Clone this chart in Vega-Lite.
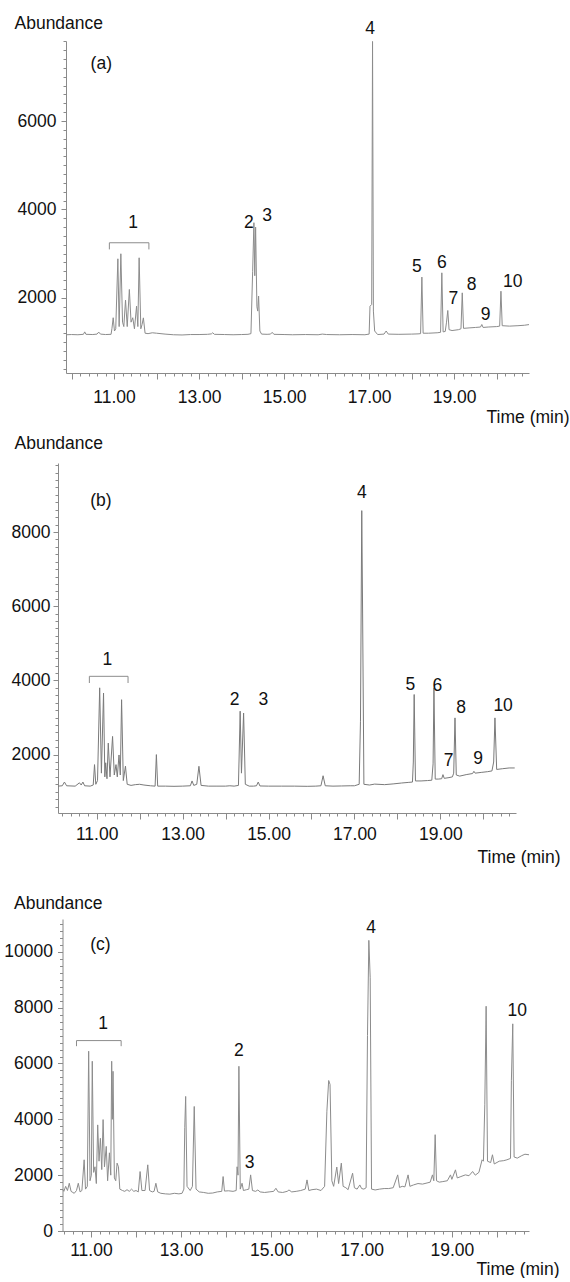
{
  "$schema": "https://vega.github.io/schema/vega-lite/v6.json",
  "padding": {"left": 3, "top": 14, "right": 0, "bottom": 0},
  "bounds": "flush",
  "spacing": 90,
  "config": {
    "view": {"stroke": null},
    "font": "Liberation Sans",
    "axis": {
      "grid": false,
      "labelFont": "Liberation Sans",
      "labelFontSize": 17.5,
      "labelColor": "#111111",
      "titleFont": "Liberation Sans",
      "titleFontSize": 17.5,
      "titleFontWeight": "normal",
      "titleColor": "#111111",
      "domainColor": "#8a8a8a",
      "tickColor": "#8a8a8a",
      "labelOverlap": false,
      "labelFlush": false
    }
  },
  "datasets": {
    "a": [
      {"t": 9.87, "v": 1165}, {"t": 10.0, "v": 1170}, {"t": 10.15, "v": 1165}, {"t": 10.28, "v": 1175}, {"t": 10.31, "v": 1230}, {"t": 10.34, "v": 1175},
      {"t": 10.5, "v": 1170}, {"t": 10.6, "v": 1180}, {"t": 10.64, "v": 1225}, {"t": 10.68, "v": 1180}, {"t": 10.8, "v": 1170}, {"t": 10.93, "v": 1175},
      {"t": 10.95, "v": 1300}, {"t": 10.98, "v": 1550}, {"t": 11.01, "v": 1250}, {"t": 11.04, "v": 1300}, {"t": 11.09, "v": 2883}, {"t": 11.12, "v": 1350},
      {"t": 11.16, "v": 2997}, {"t": 11.2, "v": 1450}, {"t": 11.23, "v": 1350}, {"t": 11.27, "v": 1950}, {"t": 11.31, "v": 1350}, {"t": 11.36, "v": 2190},
      {"t": 11.4, "v": 1450}, {"t": 11.44, "v": 1550}, {"t": 11.48, "v": 1300}, {"t": 11.53, "v": 1812}, {"t": 11.56, "v": 1350}, {"t": 11.59, "v": 2906},
      {"t": 11.63, "v": 1300}, {"t": 11.66, "v": 1400}, {"t": 11.69, "v": 1547}, {"t": 11.73, "v": 1200}, {"t": 11.8, "v": 1190}, {"t": 11.9, "v": 1210},
      {"t": 12.0, "v": 1200}, {"t": 12.2, "v": 1180}, {"t": 12.4, "v": 1165}, {"t": 12.6, "v": 1160}, {"t": 12.8, "v": 1170}, {"t": 13.0, "v": 1170},
      {"t": 13.2, "v": 1175}, {"t": 13.29, "v": 1185}, {"t": 13.32, "v": 1210}, {"t": 13.36, "v": 1175}, {"t": 13.6, "v": 1170}, {"t": 13.8, "v": 1165},
      {"t": 14.0, "v": 1170}, {"t": 14.15, "v": 1175}, {"t": 14.22, "v": 1190}, {"t": 14.26, "v": 2600}, {"t": 14.29, "v": 3700}, {"t": 14.31, "v": 2500},
      {"t": 14.33, "v": 3600}, {"t": 14.36, "v": 1800}, {"t": 14.38, "v": 1700}, {"t": 14.4, "v": 2040}, {"t": 14.43, "v": 1250}, {"t": 14.47, "v": 1180},
      {"t": 14.6, "v": 1175}, {"t": 14.68, "v": 1180}, {"t": 14.72, "v": 1220}, {"t": 14.76, "v": 1175}, {"t": 15.0, "v": 1170}, {"t": 15.2, "v": 1165},
      {"t": 15.5, "v": 1170}, {"t": 15.8, "v": 1165}, {"t": 15.9, "v": 1180}, {"t": 16.0, "v": 1170}, {"t": 16.3, "v": 1165}, {"t": 16.6, "v": 1170},
      {"t": 16.9, "v": 1165}, {"t": 17.0, "v": 1180}, {"t": 17.02, "v": 1810}, {"t": 17.06, "v": 1850}, {"t": 17.08, "v": 7800}, {"t": 17.1, "v": 1700},
      {"t": 17.13, "v": 1250}, {"t": 17.2, "v": 1170}, {"t": 17.35, "v": 1180}, {"t": 17.4, "v": 1250}, {"t": 17.45, "v": 1180}, {"t": 17.7, "v": 1175},
      {"t": 18.0, "v": 1180}, {"t": 18.15, "v": 1185}, {"t": 18.21, "v": 1190}, {"t": 18.24, "v": 2470}, {"t": 18.27, "v": 1200}, {"t": 18.4, "v": 1200},
      {"t": 18.6, "v": 1210}, {"t": 18.68, "v": 1220}, {"t": 18.71, "v": 2566}, {"t": 18.74, "v": 1230}, {"t": 18.79, "v": 1240}, {"t": 18.82, "v": 1450},
      {"t": 18.85, "v": 1714}, {"t": 18.88, "v": 1280}, {"t": 18.95, "v": 1260}, {"t": 19.1, "v": 1280}, {"t": 19.16, "v": 1300}, {"t": 19.19, "v": 2113},
      {"t": 19.22, "v": 1310}, {"t": 19.35, "v": 1320}, {"t": 19.5, "v": 1330}, {"t": 19.62, "v": 1340}, {"t": 19.65, "v": 1397}, {"t": 19.68, "v": 1330},
      {"t": 19.8, "v": 1340}, {"t": 20.0, "v": 1350}, {"t": 20.07, "v": 1360}, {"t": 20.1, "v": 2150}, {"t": 20.13, "v": 1370}, {"t": 20.3, "v": 1360},
      {"t": 20.5, "v": 1370}, {"t": 20.65, "v": 1380}, {"t": 20.76, "v": 1395}
    ],
    "b": [
      {"t": 10.1, "v": 1150}, {"t": 10.2, "v": 1160}, {"t": 10.25, "v": 1260}, {"t": 10.3, "v": 1160}, {"t": 10.5, "v": 1150}, {"t": 10.6, "v": 1240},
      {"t": 10.64, "v": 1180}, {"t": 10.68, "v": 1260}, {"t": 10.72, "v": 1160}, {"t": 10.85, "v": 1150}, {"t": 10.92, "v": 1180}, {"t": 10.95, "v": 1730},
      {"t": 10.98, "v": 1200}, {"t": 11.02, "v": 1300}, {"t": 11.07, "v": 3800}, {"t": 11.11, "v": 1500}, {"t": 11.16, "v": 3660}, {"t": 11.19, "v": 1400},
      {"t": 11.21, "v": 1780}, {"t": 11.24, "v": 1350}, {"t": 11.27, "v": 2310}, {"t": 11.31, "v": 1400}, {"t": 11.37, "v": 2490}, {"t": 11.41, "v": 1450},
      {"t": 11.45, "v": 1730}, {"t": 11.48, "v": 1400}, {"t": 11.52, "v": 1990}, {"t": 11.55, "v": 1450}, {"t": 11.58, "v": 3480}, {"t": 11.62, "v": 1300},
      {"t": 11.67, "v": 1690}, {"t": 11.71, "v": 1200}, {"t": 11.8, "v": 1170}, {"t": 11.9, "v": 1190}, {"t": 12.0, "v": 1200}, {"t": 12.1, "v": 1180},
      {"t": 12.25, "v": 1160}, {"t": 12.36, "v": 1150}, {"t": 12.39, "v": 2000}, {"t": 12.42, "v": 1150}, {"t": 12.6, "v": 1150}, {"t": 12.8, "v": 1145},
      {"t": 13.0, "v": 1150}, {"t": 13.18, "v": 1160}, {"t": 13.22, "v": 1290}, {"t": 13.26, "v": 1170}, {"t": 13.33, "v": 1200}, {"t": 13.38, "v": 1685},
      {"t": 13.43, "v": 1170}, {"t": 13.6, "v": 1150}, {"t": 13.8, "v": 1150}, {"t": 14.0, "v": 1150}, {"t": 14.1, "v": 1160}, {"t": 14.2, "v": 1150},
      {"t": 14.3, "v": 1170}, {"t": 14.34, "v": 3170}, {"t": 14.37, "v": 1500}, {"t": 14.42, "v": 3120}, {"t": 14.46, "v": 1200}, {"t": 14.55, "v": 1150},
      {"t": 14.65, "v": 1150}, {"t": 14.72, "v": 1160}, {"t": 14.76, "v": 1260}, {"t": 14.8, "v": 1155}, {"t": 15.0, "v": 1150}, {"t": 15.3, "v": 1150},
      {"t": 15.6, "v": 1150}, {"t": 15.9, "v": 1145}, {"t": 16.1, "v": 1150}, {"t": 16.22, "v": 1160}, {"t": 16.27, "v": 1430}, {"t": 16.32, "v": 1160},
      {"t": 16.5, "v": 1150}, {"t": 16.7, "v": 1155}, {"t": 16.9, "v": 1160}, {"t": 17.0, "v": 1160}, {"t": 17.11, "v": 1200}, {"t": 17.14, "v": 2900},
      {"t": 17.17, "v": 8576}, {"t": 17.19, "v": 5790}, {"t": 17.22, "v": 1200}, {"t": 17.35, "v": 1180}, {"t": 17.47, "v": 1205}, {"t": 17.7, "v": 1190},
      {"t": 17.9, "v": 1210}, {"t": 18.1, "v": 1235}, {"t": 18.25, "v": 1250}, {"t": 18.35, "v": 1260}, {"t": 18.37, "v": 1800}, {"t": 18.39, "v": 3620},
      {"t": 18.42, "v": 1290}, {"t": 18.55, "v": 1290}, {"t": 18.7, "v": 1300}, {"t": 18.8, "v": 1310}, {"t": 18.83, "v": 1750}, {"t": 18.85, "v": 3800},
      {"t": 18.88, "v": 1340}, {"t": 18.95, "v": 1340}, {"t": 19.03, "v": 1350}, {"t": 19.06, "v": 1460}, {"t": 19.09, "v": 1360}, {"t": 19.2, "v": 1380},
      {"t": 19.28, "v": 1400}, {"t": 19.31, "v": 1500}, {"t": 19.34, "v": 2990}, {"t": 19.37, "v": 1450}, {"t": 19.45, "v": 1420}, {"t": 19.6, "v": 1460},
      {"t": 19.75, "v": 1490}, {"t": 19.78, "v": 1550}, {"t": 19.81, "v": 1500}, {"t": 19.95, "v": 1520}, {"t": 20.1, "v": 1540}, {"t": 20.2, "v": 1560},
      {"t": 20.24, "v": 1800}, {"t": 20.27, "v": 2990}, {"t": 20.31, "v": 1600}, {"t": 20.45, "v": 1620}, {"t": 20.6, "v": 1640}, {"t": 20.73, "v": 1640}
    ],
    "c": [
      {"t": 10.37, "v": 1500}, {"t": 10.4, "v": 1420}, {"t": 10.44, "v": 1600}, {"t": 10.48, "v": 1450}, {"t": 10.52, "v": 1710}, {"t": 10.56, "v": 1420},
      {"t": 10.6, "v": 1380}, {"t": 10.63, "v": 1350}, {"t": 10.68, "v": 1450}, {"t": 10.72, "v": 1710}, {"t": 10.76, "v": 1400}, {"t": 10.8, "v": 1450},
      {"t": 10.85, "v": 2550}, {"t": 10.88, "v": 1500}, {"t": 10.92, "v": 1600}, {"t": 10.95, "v": 6440}, {"t": 10.98, "v": 1800}, {"t": 11.01, "v": 2000},
      {"t": 11.03, "v": 6080}, {"t": 11.06, "v": 2100}, {"t": 11.09, "v": 2300}, {"t": 11.12, "v": 1700}, {"t": 11.15, "v": 3800}, {"t": 11.18, "v": 2500},
      {"t": 11.21, "v": 3320}, {"t": 11.24, "v": 2200}, {"t": 11.27, "v": 3990}, {"t": 11.3, "v": 2300}, {"t": 11.34, "v": 3030}, {"t": 11.37, "v": 1800},
      {"t": 11.41, "v": 2800}, {"t": 11.44, "v": 2000}, {"t": 11.46, "v": 6080}, {"t": 11.475, "v": 4000}, {"t": 11.49, "v": 5720}, {"t": 11.52, "v": 1900},
      {"t": 11.55, "v": 1800}, {"t": 11.58, "v": 2430}, {"t": 11.61, "v": 2300}, {"t": 11.64, "v": 1500}, {"t": 11.7, "v": 1450}, {"t": 11.75, "v": 1420},
      {"t": 11.8, "v": 1480}, {"t": 11.85, "v": 1420}, {"t": 11.9, "v": 1500}, {"t": 11.95, "v": 1420}, {"t": 12.0, "v": 1450}, {"t": 12.05, "v": 1400},
      {"t": 12.09, "v": 2130}, {"t": 12.13, "v": 1450}, {"t": 12.2, "v": 1450}, {"t": 12.26, "v": 2370}, {"t": 12.3, "v": 1450}, {"t": 12.36, "v": 1400},
      {"t": 12.4, "v": 1420}, {"t": 12.44, "v": 1710}, {"t": 12.48, "v": 1400}, {"t": 12.55, "v": 1350}, {"t": 12.65, "v": 1330}, {"t": 12.75, "v": 1320},
      {"t": 12.85, "v": 1350}, {"t": 12.95, "v": 1330}, {"t": 13.02, "v": 1350}, {"t": 13.06, "v": 1500}, {"t": 13.08, "v": 3700}, {"t": 13.1, "v": 4820},
      {"t": 13.13, "v": 1600}, {"t": 13.2, "v": 1450}, {"t": 13.25, "v": 1600}, {"t": 13.29, "v": 4460}, {"t": 13.33, "v": 1500}, {"t": 13.4, "v": 1400},
      {"t": 13.5, "v": 1380}, {"t": 13.6, "v": 1350}, {"t": 13.7, "v": 1360}, {"t": 13.8, "v": 1400}, {"t": 13.9, "v": 1420}, {"t": 13.93, "v": 1950},
      {"t": 13.96, "v": 1430}, {"t": 14.05, "v": 1440}, {"t": 14.15, "v": 1420}, {"t": 14.22, "v": 1450}, {"t": 14.24, "v": 2300}, {"t": 14.26, "v": 2000},
      {"t": 14.28, "v": 5900}, {"t": 14.31, "v": 1500}, {"t": 14.35, "v": 1710}, {"t": 14.38, "v": 1450}, {"t": 14.45, "v": 1480}, {"t": 14.5, "v": 1500},
      {"t": 14.54, "v": 2010}, {"t": 14.58, "v": 1450}, {"t": 14.65, "v": 1420}, {"t": 14.7, "v": 1470}, {"t": 14.75, "v": 1400}, {"t": 14.85, "v": 1380},
      {"t": 14.95, "v": 1400}, {"t": 15.05, "v": 1420}, {"t": 15.1, "v": 1530}, {"t": 15.15, "v": 1400}, {"t": 15.25, "v": 1380}, {"t": 15.35, "v": 1420},
      {"t": 15.39, "v": 1470}, {"t": 15.45, "v": 1400}, {"t": 15.55, "v": 1420}, {"t": 15.65, "v": 1450}, {"t": 15.75, "v": 1500}, {"t": 15.79, "v": 1830},
      {"t": 15.83, "v": 1450}, {"t": 15.9, "v": 1480}, {"t": 16.0, "v": 1500}, {"t": 16.1, "v": 1450}, {"t": 16.18, "v": 1600}, {"t": 16.23, "v": 4290},
      {"t": 16.27, "v": 5390}, {"t": 16.3, "v": 5250}, {"t": 16.34, "v": 1800}, {"t": 16.38, "v": 1600}, {"t": 16.45, "v": 2290}, {"t": 16.49, "v": 1700},
      {"t": 16.55, "v": 2430}, {"t": 16.59, "v": 1600}, {"t": 16.65, "v": 1550}, {"t": 16.7, "v": 1480}, {"t": 16.8, "v": 2070}, {"t": 16.84, "v": 1550},
      {"t": 16.9, "v": 1500}, {"t": 16.96, "v": 1650}, {"t": 17.0, "v": 1520}, {"t": 17.05, "v": 1500}, {"t": 17.1, "v": 1550}, {"t": 17.13, "v": 7000},
      {"t": 17.16, "v": 10410}, {"t": 17.19, "v": 9070}, {"t": 17.22, "v": 1500}, {"t": 17.3, "v": 1470}, {"t": 17.4, "v": 1500}, {"t": 17.5, "v": 1520},
      {"t": 17.6, "v": 1520}, {"t": 17.7, "v": 1550}, {"t": 17.8, "v": 2010}, {"t": 17.84, "v": 1560}, {"t": 17.9, "v": 1600}, {"t": 17.96, "v": 1580},
      {"t": 18.03, "v": 2010}, {"t": 18.07, "v": 1600}, {"t": 18.15, "v": 1650}, {"t": 18.25, "v": 1700}, {"t": 18.35, "v": 1680}, {"t": 18.45, "v": 1720},
      {"t": 18.52, "v": 1750}, {"t": 18.57, "v": 2010}, {"t": 18.6, "v": 1800}, {"t": 18.63, "v": 3450}, {"t": 18.66, "v": 1800}, {"t": 18.72, "v": 1750},
      {"t": 18.8, "v": 1770}, {"t": 18.9, "v": 1800}, {"t": 18.97, "v": 2010}, {"t": 19.0, "v": 1850}, {"t": 19.08, "v": 2190}, {"t": 19.12, "v": 1900},
      {"t": 19.2, "v": 1950}, {"t": 19.3, "v": 2010}, {"t": 19.38, "v": 1980}, {"t": 19.46, "v": 2130}, {"t": 19.52, "v": 2000}, {"t": 19.6, "v": 2100},
      {"t": 19.67, "v": 2550}, {"t": 19.7, "v": 2500}, {"t": 19.73, "v": 4520}, {"t": 19.76, "v": 8050}, {"t": 19.79, "v": 2500}, {"t": 19.86, "v": 2450},
      {"t": 19.9, "v": 2730}, {"t": 19.94, "v": 2400}, {"t": 20.05, "v": 2500}, {"t": 20.15, "v": 2520}, {"t": 20.22, "v": 2550}, {"t": 20.3, "v": 2600},
      {"t": 20.32, "v": 5400}, {"t": 20.35, "v": 7420}, {"t": 20.38, "v": 2650}, {"t": 20.45, "v": 2610}, {"t": 20.55, "v": 2700}, {"t": 20.62, "v": 2750},
      {"t": 20.71, "v": 2730}
    ],
    "la": [
      {"t": 10.7, "v": 7286, "label": "(a)"}, {"t": 11.45, "v": 3700, "label": "1"}, {"t": 14.17, "v": 3700, "label": "2"}, {"t": 14.6, "v": 3850, "label": "3"},
      {"t": 17.02, "v": 8080, "label": "4"}, {"t": 18.12, "v": 2700, "label": "5"}, {"t": 18.71, "v": 2780, "label": "6"}, {"t": 18.98, "v": 1985, "label": "7"},
      {"t": 19.41, "v": 2280, "label": "8"}, {"t": 19.74, "v": 1620, "label": "9"}, {"t": 20.38, "v": 2355, "label": "10"}
    ],
    "lb": [
      {"t": 11.1, "v": 8830, "label": "(b)"}, {"t": 11.25, "v": 4560, "label": "1"}, {"t": 14.21, "v": 3460, "label": "2"}, {"t": 14.88, "v": 3460, "label": "3"},
      {"t": 17.17, "v": 9050, "label": "4"}, {"t": 18.3, "v": 3870, "label": "5"}, {"t": 18.93, "v": 3840, "label": "6"}, {"t": 19.19, "v": 1840, "label": "7"},
      {"t": 19.48, "v": 3260, "label": "8"}, {"t": 19.88, "v": 1880, "label": "9"}, {"t": 20.46, "v": 3300, "label": "10"}
    ],
    "lc": [
      {"t": 11.21, "v": 10250, "label": "(c)"}, {"t": 11.27, "v": 7420, "label": "1"}, {"t": 14.28, "v": 6440, "label": "2"}, {"t": 14.52, "v": 2450, "label": "3"},
      {"t": 17.21, "v": 10840, "label": "4"}, {"t": 20.45, "v": 7880, "label": "10"}
    ],
    "ba": [
      {"o": 1, "t": 10.89, "v": 3096}, {"o": 2, "t": 10.89, "v": 3246}, {"o": 3, "t": 11.82, "v": 3246}, {"o": 4, "t": 11.82, "v": 3096}
    ],
    "bb": [
      {"o": 1, "t": 10.83, "v": 3930}, {"o": 2, "t": 10.83, "v": 4110}, {"o": 3, "t": 11.73, "v": 4110}, {"o": 4, "t": 11.73, "v": 3930}
    ],
    "bc": [
      {"o": 1, "t": 10.68, "v": 6620}, {"o": 2, "t": 10.68, "v": 6820}, {"o": 3, "t": 11.67, "v": 6820}, {"o": 4, "t": 11.67, "v": 6620}
    ]
  },
  "vconcat": [
    {
      "width": 471,
      "height": 332,
      "encoding": {
        "x": {
          "field": "t", "type": "quantitative",
          "scale": {"domain": [9.87, 20.76], "range": [8, 471], "nice": false, "zero": false},
          "axis": {
            "values": [10, 10.2, 10.4, 10.6, 10.8, 11, 11.2, 11.4, 11.6, 11.8, 12, 12.2, 12.4, 12.6, 12.8, 13, 13.2, 13.4, 13.6, 13.8, 14, 14.2, 14.4, 14.6, 14.8, 15, 15.2, 15.4, 15.6, 15.8, 16, 16.2, 16.4, 16.6, 16.8, 17, 17.2, 17.4, 17.6, 17.8, 18, 18.2, 18.4, 18.6, 18.8, 19, 19.2, 19.4, 19.6, 19.8, 20, 20.2, 20.4, 20.6],
            "labelExpr": "abs(datum.value - round(datum.value)) < 0.01 && round(datum.value) % 2 == 1 ? format(datum.value, '.2f') : ''",
            "tickSize": {"condition": {"test": "abs(datum.value - round(datum.value)) < 0.01", "value": 6}, "value": 3},
            "labelPadding": 9,
            "title": "Time (min)", "titleAngle": 0, "titleAlign": "right", "titleBaseline": "alphabetic", "titleX": 511, "titleY": 49
          }
        },
        "y": {
          "field": "v", "type": "quantitative",
          "scale": {"domain": [300, 7810], "nice": false, "zero": false},
          "axis": {
            "values": [400, 600, 800, 1000, 1200, 1400, 1600, 1800, 2000, 2200, 2400, 2600, 2800, 3000, 3200, 3400, 3600, 3800, 4000, 4200, 4400, 4600, 4800, 5000, 5200, 5400, 5600, 5800, 6000, 6200, 6400, 6600, 6800, 7000, 7200, 7400, 7600, 7800],
            "labelExpr": "datum.value % 2000 == 0 ? format(datum.value, 'd') : ''",
            "tickSize": {"condition": {"test": "datum.value % 2000 == 0", "value": 5}, "value": 3},
            "labelPadding": 5,
            "offset": -8,
            "title": "Abundance", "titleAngle": 0, "titleAlign": "left", "titleBaseline": "alphabetic", "titleX": -52, "titleY": -13
          }
        }
      },
      "layer": [
        {"data": {"name": "a"}, "mark": {"type": "line", "color": "#8c8c8c", "strokeWidth": 1}},
        {"data": {"name": "ba"}, "mark": {"type": "line", "color": "#8c8c8c", "strokeWidth": 1}, "encoding": {"order": {"field": "o", "type": "quantitative"}}},
        {"data": {"name": "la"}, "mark": {"type": "text", "font": "Liberation Sans", "fontSize": 17.5, "color": "#111111", "align": "center", "baseline": "middle"}, "encoding": {"text": {"field": "label", "type": "nominal"}}}
      ]
    },
    {
      "width": 471,
      "height": 350,
      "encoding": {
        "x": {
          "field": "t", "type": "quantitative",
          "scale": {"domain": [10.1, 20.76], "range": [0, 458], "nice": false, "zero": false},
          "axis": {
            "values": [10.2, 10.4, 10.6, 10.8, 11, 11.2, 11.4, 11.6, 11.8, 12, 12.2, 12.4, 12.6, 12.8, 13, 13.2, 13.4, 13.6, 13.8, 14, 14.2, 14.4, 14.6, 14.8, 15, 15.2, 15.4, 15.6, 15.8, 16, 16.2, 16.4, 16.6, 16.8, 17, 17.2, 17.4, 17.6, 17.8, 18, 18.2, 18.4, 18.6, 18.8, 19, 19.2, 19.4, 19.6, 19.8, 20, 20.2, 20.4, 20.6],
            "labelExpr": "abs(datum.value - round(datum.value)) < 0.01 && round(datum.value) % 2 == 1 ? format(datum.value, '.2f') : ''",
            "tickSize": {"condition": {"test": "abs(datum.value - round(datum.value)) < 0.01", "value": 6}, "value": 3},
            "labelPadding": 6,
            "title": "Time (min)", "titleAngle": 0, "titleAlign": "right", "titleBaseline": "alphabetic", "titleX": 502, "titleY": 49
          }
        },
        "y": {
          "field": "v", "type": "quantitative",
          "scale": {"domain": [426, 9860], "nice": false, "zero": false},
          "axis": {
            "values": [600, 800, 1000, 1200, 1400, 1600, 1800, 2000, 2200, 2400, 2600, 2800, 3000, 3200, 3400, 3600, 3800, 4000, 4200, 4400, 4600, 4800, 5000, 5200, 5400, 5600, 5800, 6000, 6200, 6400, 6600, 6800, 7000, 7200, 7400, 7600, 7800, 8000, 8200, 8400, 8600, 8800, 9000, 9200, 9400, 9600, 9800],
            "labelExpr": "datum.value % 2000 == 0 ? format(datum.value, 'd') : ''",
            "tickSize": {"condition": {"test": "datum.value % 2000 == 0", "value": 5}, "value": 3},
            "labelPadding": 3,
            "title": "Abundance", "titleAngle": 0, "titleAlign": "left", "titleBaseline": "alphabetic", "titleX": -44, "titleY": -15
          }
        }
      },
      "layer": [
        {"data": {"name": "b"}, "mark": {"type": "line", "color": "#7a7a7a", "strokeWidth": 1}},
        {"data": {"name": "bb"}, "mark": {"type": "line", "color": "#8c8c8c", "strokeWidth": 1}, "encoding": {"order": {"field": "o", "type": "quantitative"}}},
        {"data": {"name": "lb"}, "mark": {"type": "text", "font": "Liberation Sans", "fontSize": 17.5, "color": "#111111", "align": "center", "baseline": "middle"}, "encoding": {"text": {"field": "label", "type": "nominal"}}}
      ]
    },
    {
      "width": 471,
      "height": 328,
      "encoding": {
        "x": {
          "field": "t", "type": "quantitative",
          "scale": {"domain": [10.37, 20.71], "range": [4.5, 471], "nice": false, "zero": false},
          "axis": {
            "values": [10.4, 10.6, 10.8, 11, 11.2, 11.4, 11.6, 11.8, 12, 12.2, 12.4, 12.6, 12.8, 13, 13.2, 13.4, 13.6, 13.8, 14, 14.2, 14.4, 14.6, 14.8, 15, 15.2, 15.4, 15.6, 15.8, 16, 16.2, 16.4, 16.6, 16.8, 17, 17.2, 17.4, 17.6, 17.8, 18, 18.2, 18.4, 18.6, 18.8, 19, 19.2, 19.4, 19.6, 19.8, 20, 20.2, 20.4, 20.6],
            "labelExpr": "abs(datum.value - round(datum.value)) < 0.01 && round(datum.value) % 2 == 1 ? format(datum.value, '.2f') : ''",
            "tickSize": {"condition": {"test": "abs(datum.value - round(datum.value)) < 0.01", "value": 6}, "value": 3},
            "labelPadding": 4,
            "title": "Time (min)", "titleAngle": 0, "titleAlign": "right", "titleBaseline": "alphabetic", "titleX": 501, "titleY": 43
          }
        },
        "y": {
          "field": "v", "type": "quantitative",
          "scale": {"domain": [0, 11175], "range": [328, 16], "nice": false, "zero": false},
          "axis": {
            "values": [0, 250, 500, 750, 1000, 1250, 1500, 1750, 2000, 2250, 2500, 2750, 3000, 3250, 3500, 3750, 4000, 4250, 4500, 4750, 5000, 5250, 5500, 5750, 6000, 6250, 6500, 6750, 7000, 7250, 7500, 7750, 8000, 8250, 8500, 8750, 9000, 9250, 9500, 9750, 10000, 10250, 10500, 10750, 11000],
            "labelExpr": "datum.value % 2000 == 0 ? format(datum.value, 'd') : ''",
            "tickSize": {"condition": {"test": "datum.value % 2000 == 0", "value": 5}, "value": 3},
            "labelPadding": 5,
            "offset": -4.5,
            "title": "Abundance", "titleAngle": 0, "titleAlign": "left", "titleBaseline": "alphabetic", "titleX": -49, "titleY": 5
          }
        }
      },
      "layer": [
        {"data": {"name": "c"}, "mark": {"type": "line", "color": "#8c8c8c", "strokeWidth": 1}},
        {"data": {"name": "bc"}, "mark": {"type": "line", "color": "#8c8c8c", "strokeWidth": 1}, "encoding": {"order": {"field": "o", "type": "quantitative"}}},
        {"data": {"name": "lc"}, "mark": {"type": "text", "font": "Liberation Sans", "fontSize": 17.5, "color": "#111111", "align": "center", "baseline": "middle"}, "encoding": {"text": {"field": "label", "type": "nominal"}}}
      ]
    }
  ]
}
